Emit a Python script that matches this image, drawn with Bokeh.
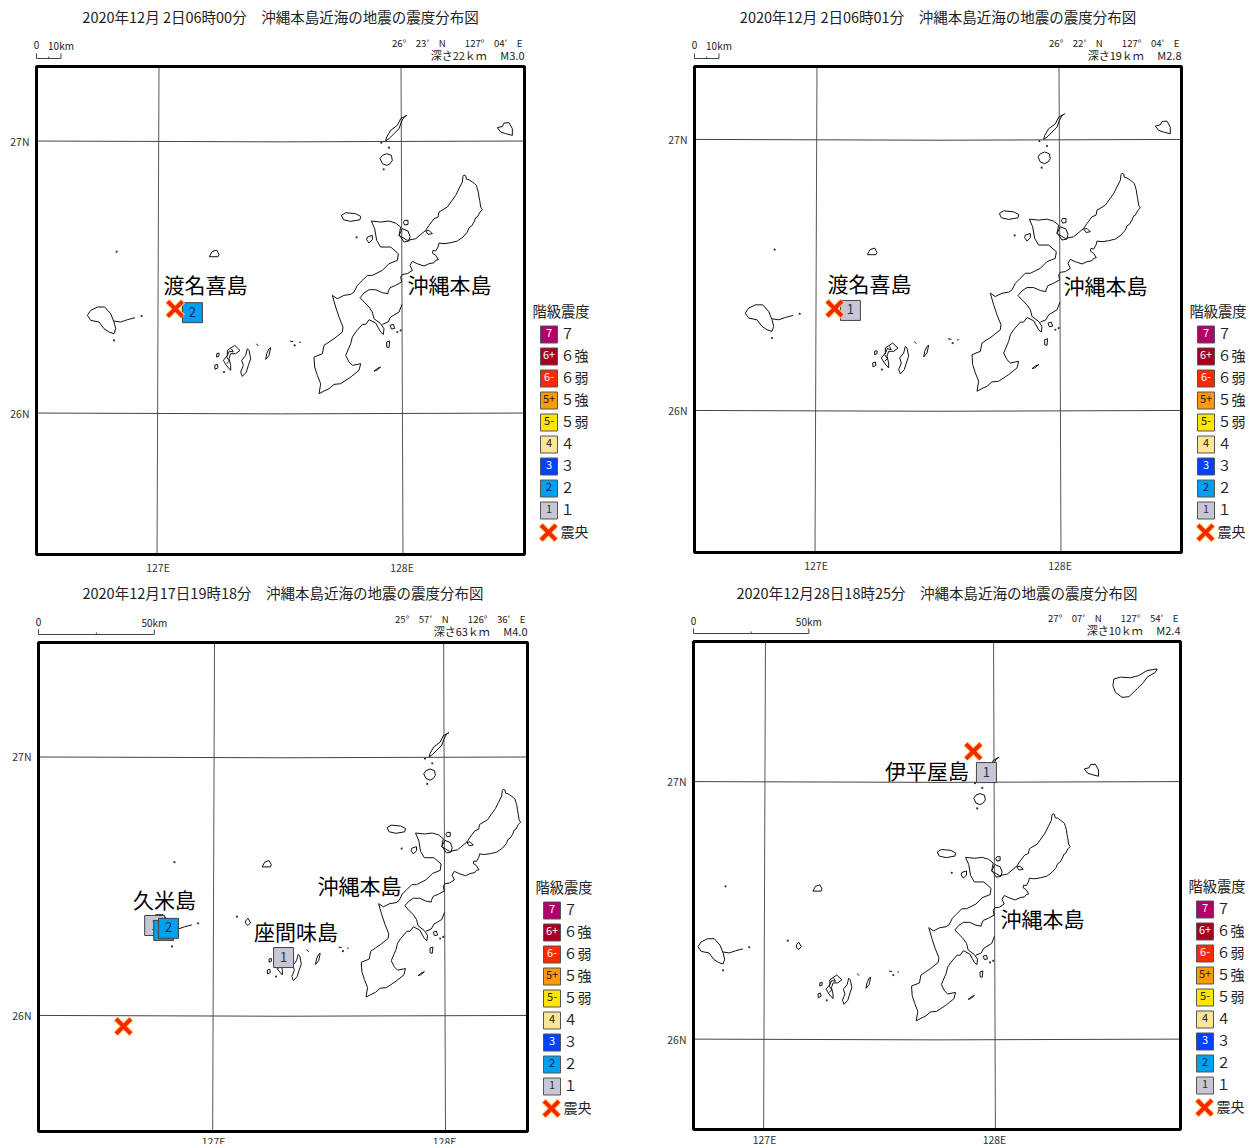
from bokeh.embed import file_html
from bokeh.layouts import column, row
from bokeh.models import FixedTicker, Range1d
from bokeh.plotting import figure
from bokeh.resources import INLINE
from bokeh.core.properties import value

FONT = "Noto Sans CJK JP"

# Coast: units are 1/732 deg lon and 1/816 deg lat, from an origin
# near 127.585E 27.15N.
OKINAWA_NORTH = [(487,228),(490,224),(495,226),(497,236),(505,238),(515,245),(522,250),(527,255),(530,265),(533,275),(535,290),(537,300),(540,320),(545,328),(538,335),(530,350),(525,352),(520,365),(512,378),(505,382),(500,395),(487,410),(470,422),(450,427),(430,430),(415,428),(412,440),(405,452),(397,450),(395,458),(405,465),(413,478),(405,480),(400,487),(385,490),(370,497),(350,490),(335,483),(328,495),(335,510),(320,520),(305,522),(300,530),(303,545),(285,555),(268,562),(262,575),(262,580),(245,577),(225,568),(205,568),(190,578),(178,592),(190,605),(205,620),(215,635),(220,655),(240,670),(250,685),(248,702),(240,695),(225,668),(205,658),(195,672),(185,672),(165,695),(155,710),(150,730),(135,765),(145,785),(155,795),(180,790),(175,810),(150,830),(120,850),(100,852),(85,865),(70,872),(55,880),(60,850),(50,825),(42,800),(40,770),(65,760),(70,735),(85,725),(100,715),(125,695),(127,680),(115,650),(105,620),(95,585),(110,595),(130,585),(150,582),(160,575),(170,555),(185,540),(200,525),(215,525),(245,510),(265,490),(290,480),(293,460),(270,440),(240,440),(228,420),(222,385),(212,362),(240,365),(265,362),(285,368),(300,380),(295,405),(320,420),(345,415),(375,390),(385,375),(400,355),(412,350),(415,335),(440,320),(465,285),(475,265),(485,245),(487,228)]
KATSUREN = [(245,672),(262,665),(270,650),(295,635),(304,612)]
IHEYA = [(318,45),(300,55),(290,75),(270,90),(258,110),(255,122),(265,115),(280,100),(295,85),(302,65),(310,50),(318,45)]
IZENA = [(245,165),(258,160),(272,165),(275,180),(268,190),(258,195),(245,190),(238,175),(245,165)]
IWO_TORI = [(590,82),(605,78),(610,68),(625,67),(635,85),(635,105),(615,100),(600,95),(590,82)]
IE = [(122,345),(135,337),(165,340),(180,348),(178,358),(150,363),(128,358),(122,345)]
SESOKO = [(200,410),(215,405),(215,418),(205,428),(198,418),(200,410)]
KOURI = [(312,360),(322,360),(322,372),(312,374),(308,366),(312,360)]
YAGAJI = [(305,385),(322,392),(328,408),(325,422),(310,425),(300,410),(295,405),(305,385)]
OU = [(375,392),(385,390),(395,400),(382,402),(375,392)]
TSUKEN = [(268,675),(278,672),(282,684),(272,686),(268,675)]
KUDAKA = [(258,725),(267,722),(265,742),(258,740),(258,725)]
OFF_SOUTH = [(220,812),(232,803),(240,800),(228,810),(220,812)]
AGUNI = [(-274,469),(-266,454),(-252,449),(-245,462),(-248,469),(-274,469)]
KUME = [(-640,645),(-630,630),(-610,620),(-588,620),(-570,640),(-560,665),(-555,685),(-560,700),(-575,695),(-590,685),(-605,665),(-630,660),(-640,645)]
KUME_TAIL = [(-560,662),(-540,665),(-520,658),(-497,652)]
TOKASHIKI = [(-160,745),(-155,750),(-150,775),(-157,795),(-163,815),(-175,828),(-180,815),(-172,795),(-177,780),(-165,765),(-160,745)]
ZAMAMI = [(-220,750),(-198,735),(-182,750),(-195,760),(-210,760),(-215,775),(-210,795),(-210,810),(-223,795),(-232,780),(-220,765),(-220,750)]
ZAMAMI_INNER = [(-208,745),(-202,755),(-214,752),(-222,770),(-214,782),(-222,790)]
AKA = [(-252,760),(-245,758),(-245,767),(-252,770),(-252,760)]
GERUMA = [(-258,795),(-250,792),(-248,802),(-257,807),(-258,795)]
TONAKI_SMALL = [(-95,745),(-90,742),(-95,765),(-105,777),(-102,760),(-95,745)]
KURU = [(-133,730),(-127,737)]
TONAKI = [(-326,639),(-319,631),(-311,645),(-319,654),(-327,647),(-326,639)]
KEISE_A = [(-32,722),(-22,724)]
KEISE_B = [(-5,726),(0,725)]
OKINOERABU = [(684,-203),(705,-209),(737,-207),(763,-214),(790,-230),(822,-235),(816,-224),(790,-209),(779,-193),(758,-172),(732,-147),(710,-145),(689,-161),(681,-182),(684,-203)]
COASTS = [OKINAWA_NORTH, KATSUREN, IHEYA, IZENA, IWO_TORI, IE, SESOKO, KOURI, YAGAJI, OU, TSUKEN, KUDAKA, OFF_SOUTH, AGUNI,
          KUME, KUME_TAIL, TOKASHIKI, ZAMAMI, ZAMAMI_INNER, AKA, GERUMA, TONAKI_SMALL, KURU, TONAKI, KEISE_A, KEISE_B, OKINOERABU]
ISLET_X = [242, 265, 249, 168, 290, 300, -552, -354, -477, -560, -230, -18]
ISLET_Y = [127, 142, 207, 411, 695, 690, 454, 626, 647, 720, 815, 735]

# Intensity legend
LEGEND_CODES = ["7", "6+", "6-", "5+", "5-", "4", "3", "2", "1"]
LEGEND_NAMES = ["７", "６強", "６弱", "５強", "５弱", "４", "３", "２", "１"]
LEGEND_FILL = ["#b0006a", "#a50021", "#ff2800", "#ff9900", "#ffe600", "#fae696", "#0041ff", "#00a0f0", "#c6c6d6"]
LEGEND_INK = ["#ffffff", "#ffffff", "#ffffff", "#222222", "#222222", "#222222", "#ffffff", "#102060", "#333333"]

# Panels
TITLES = ["2020年12月 2日06時00分　沖縄本島近海の地震の震度分布図",
          "2020年12月 2日06時01分　沖縄本島近海の地震の震度分布図",
          "2020年12月17日19時18分　沖縄本島近海の地震の震度分布図",
          "2020年12月28日18時25分　沖縄本島近海の地震の震度分布図"]
GAP = "\u2002\u2002"
HYPO_LINES = [f"26°{GAP}23′{GAP}N{GAP}{GAP}127°{GAP}04′{GAP}E", f"26°{GAP}22′{GAP}N{GAP}{GAP}127°{GAP}04′{GAP}E",
              f"25°{GAP}57′{GAP}N{GAP}{GAP}126°{GAP}36′{GAP}E", f"27°{GAP}07′{GAP}N{GAP}{GAP}127°{GAP}54′{GAP}E"]
DEPTH_LINES = ["深さ22ｋｍ　 M3.0", "深さ19ｋｍ　 M2.8", "深さ63ｋｍ　 M4.0", "深さ10ｋｍ　 M2.4"]
SCALE_KM = [10, 10, 50, 50]
EPI_LON = [127.07, 127.076, 126.61, 127.908]
EPI_LAT = [26.383, 26.376, 25.958, 27.117]
ST_LON = [[127.141], [127.141], [126.745, 126.784, 126.805, 127.303], [127.965]]
ST_LAT = [[26.369], [26.369], [26.348, 26.329, 26.337, 26.224], [27.035]]
ST_INT = [["2"], ["1"], ["1", "2", "2", "1"], ["1"]]
PLACE_TEXT = [["渡名喜島", "沖縄本島"], ["渡名喜島", "沖縄本島"], ["久米島", "沖縄本島", "座間味島"], ["伊平屋島", "沖縄本島"]]
PLACE_LON = [[127.195, 128.195], [127.219, 128.186], [126.788, 127.632, 127.357], [127.707, 128.209]]
PLACE_LAT = [[26.465, 26.465], [26.461, 26.454], [26.441, 26.495, 26.317], [27.035, 26.460]]
LON_RANGE = [(126.502, 128.502), (126.502, 128.498), (126.242, 128.359), (126.691, 128.809)]
LAT_RANGE = [(25.480, 27.274), (25.476, 27.269), (25.551, 27.443), (25.649, 27.544)]
LON_TICKS = [127, 128]
LAT_TICKS = [26, 27]

# Page layout in pixels: map box left, top, right, bottom
FRAMES = [(36, 66, 524, 554), (694, 66, 1181, 552), (38, 642, 527, 1131), (693, 641, 1180, 1129)]
ORIGINS = [(0, 0), (628, 0), (0, 578), (628, 578)]
SIZES = [(628, 578), (628, 578), (628, 566), (628, 566)]
HEAD_Y = [(18, 44, 56, 46, 53, 58), (18, 44, 56, 46, 53, 58), (594, 620, 632, 623, 629, 634), (594, 619, 631, 622, 628, 633)]
TICK_STANDOFF = [5, 5, 2, 2]


def to_lonlat(points):
    return [128 + (x - 304) / 732 for x, _ in points], [27 - (y - 122) / 816 for _, y in points]


def make_panel(i):
    fl, ft, fr, fb = FRAMES[i]
    ox, oy = ORIGINS[i]
    w, h = SIZES[i]
    lo, hi = LON_RANGE[i]
    la, lb = LAT_RANGE[i]
    kx = (hi - lo) / (fr - fl)
    ky = (lb - la) / (fb - ft)
    X = lambda px: lo + (px - fl) * kx
    Y = lambda py: lb - (py - ft) * ky

    p = figure(width=w, height=h, x_range=Range1d(X(ox), X(ox + w)), y_range=Range1d(Y(oy + h), Y(oy)),
               output_backend="svg", toolbar_location=None,
               min_border_left=0, min_border_top=0, min_border_right=0, min_border_bottom=0)
    p.background_fill_color = "white"
    p.border_fill_color = "white"
    p.grid.visible = False
    p.outline_line_color = None

    for ax, ticks, suffix, loc in ((p.xaxis[0], LON_TICKS, "E", la), (p.yaxis[0], LAT_TICKS, "N", lo)):
        ax.ticker = FixedTicker(ticks=ticks)
        ax.fixed_location = loc
        ax.major_label_overrides = {t: f"{t}{suffix}" for t in ticks}
        ax.major_tick_line_color = None
        ax.minor_tick_line_color = None
        ax.major_tick_in = 0
        ax.major_tick_out = 0
        ax.axis_line_color = None
        ax.major_label_text_font = FONT
        ax.major_label_text_font_size = "10.5px"
        ax.major_label_text_color = "#333333"
        ax.major_label_standoff = TICK_STANDOFF[i]
    p.yaxis[0].major_label_orientation = "horizontal"
    p.yaxis[0].major_label_standoff = 7

    # Graticule, very slightly converging as on the conic map
    for t, s in zip(LON_TICKS, (1, -1)):
        p.line([t + s * 0.004, t - s * 0.004], [lb, la], line_color="#555555", line_width=1)
    for t in LAT_TICKS:
        p.line([lo, (lo + hi) / 2, hi], [t, t - 0.003, t], line_color="#444444", line_width=1)

    inside = [c for c in map(to_lonlat, COASTS) if min(c[0]) > lo and max(c[0]) < hi and min(c[1]) > la and max(c[1]) < lb]
    p.multi_line([c[0] for c in inside], [c[1] for c in inside], line_color="#111111", line_width=1)
    ix, iy = to_lonlat(list(zip(ISLET_X, ISLET_Y)))
    p.scatter(ix, iy, size=2.2, color="#333333", line_width=0)

    # Map box
    p.quad(left=[lo], right=[hi], bottom=[la], top=[lb], fill_color=None, line_color="black", line_width=3)

    # Stations, each number covered by any box drawn after it
    for lon, lat, c in zip(ST_LON[i], ST_LAT[i], ST_INT[i]):
        k = LEGEND_CODES.index(c)
        p.scatter([lon], [lat], marker="square", size=20, fill_color=LEGEND_FILL[k], line_color="#444444", line_width=1)
        p.text([lon], [lat], text=[c], text_font=value(FONT), text_font_size="13px", y_offset=-1,
               text_align="center", text_baseline="middle", text_color=LEGEND_INK[k])

    def x_mark(lon, lat):
        p.scatter([lon], [lat], marker="x", size=22, line_color="#ffd070", line_width=6)
        p.scatter([lon], [lat], marker="x", size=21, line_color="#f52800", line_width=4)

    x_mark(EPI_LON[i], EPI_LAT[i])

    # Place names
    p.text(PLACE_LON[i], PLACE_LAT[i], text=PLACE_TEXT[i], text_font=value(FONT), text_font_size="21px",
           y_offset=-2.5, text_align="center", text_baseline="middle", text_color="#000000")

    def label(px, py, text, size, align="left", color="#222222"):
        p.text([X(px)], [Y(py)], text=[text], text_font=value(FONT), text_font_size=f"{size}px",
               y_offset=-round(size * 0.12, 1), text_align=align, text_baseline="middle", text_color=color)

    # Header: title, hypocentre text and scale bar
    yt, y1, y2, ys_text, bar_top, bar_bot = HEAD_Y[i]
    label((fl + fr) / 2, yt, TITLES[i], 14.5, "center")
    label(fr - 2, y1, HYPO_LINES[i], 9.6, "right")
    label(fr, y2, DEPTH_LINES[i], 11, "right")
    bar_px = SCALE_KM[i] / 99.7 / kx
    label(fl, ys_text, "0", 10, "center")
    label(fl + bar_px, ys_text, f"{SCALE_KM[i]}km", 10, "center")
    bx = [fl, fl, fl + bar_px, fl + bar_px]
    by = [bar_top, bar_bot, bar_bot, bar_top]
    p.line([X(v) for v in bx], [Y(v) for v in by], line_color="#444444", line_width=1)
    p.line([X(fl + bar_px / 2)] * 2, [Y(bar_bot - 2), Y(bar_bot)], line_color="#444444", line_width=1)

    # Legend
    label(fr + 36.5, ft + 246, "階級震度", 14.3, "center")
    for n, (code, name, fill, ink) in enumerate(zip(LEGEND_CODES, LEGEND_NAMES, LEGEND_FILL, LEGEND_INK)):
        cy = ft + 268 + 22 * n
        p.quad(left=[X(fr + 16)], right=[X(fr + 33)], top=[Y(cy - 8.5)], bottom=[Y(cy + 8.5)],
               fill_color=fill, line_color="#555555", line_width=1)
        label(fr + 24.5, cy, code, 11, "center", ink)
        label(fr + 36, cy, name, 14)
    cy = ft + 466
    x_mark(X(fr + 24), Y(cy))
    label(fr + 36, cy, "震央", 14)
    return p


panels = [make_panel(i) for i in range(4)]
page = column(row(panels[0], panels[1], spacing=0), row(panels[2], panels[3], spacing=0), spacing=0)
open("out.html", "w").write(file_html(page, INLINE))
